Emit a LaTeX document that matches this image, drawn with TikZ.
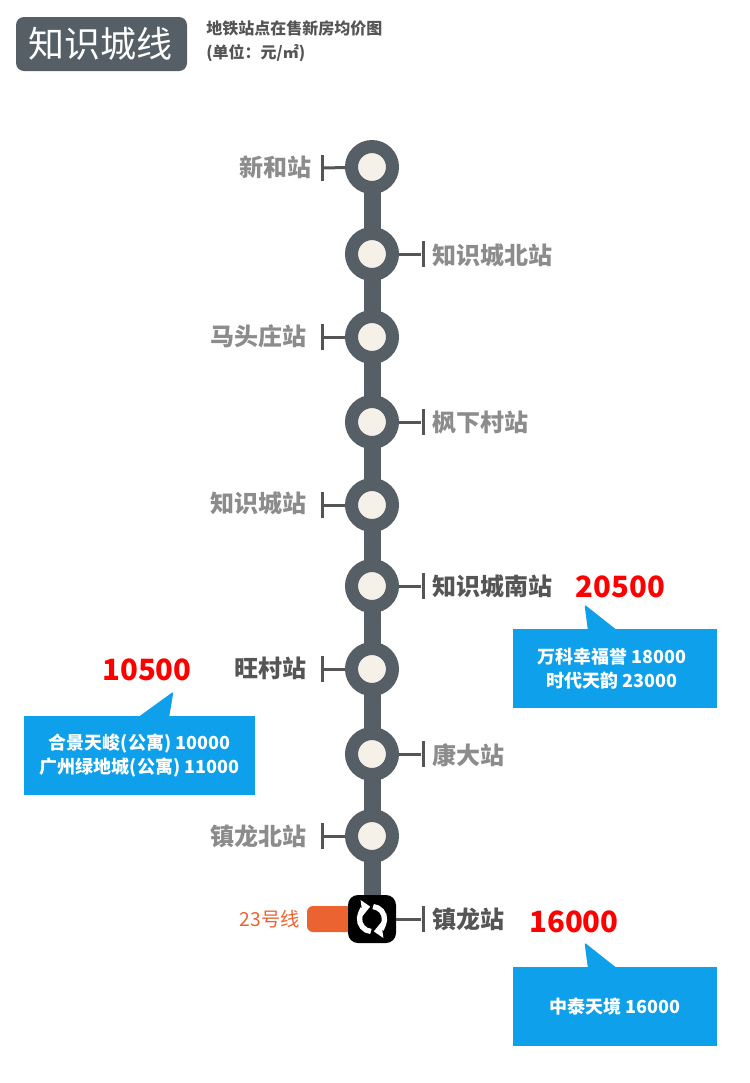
\documentclass[tikz,border=0pt]{standalone}
\usepackage{fontspec}
\usetikzlibrary{arrows.meta}
\setmainfont{Noto Sans CJK SC}
\definecolor{linegray}{HTML}{555F65}
\definecolor{stationcream}{HTML}{F5F0E8}
\definecolor{hookgray}{HTML}{555555}
\definecolor{mutedgray}{HTML}{8C8C8C}
\definecolor{calloutblue}{HTML}{0EA0EA}
\definecolor{lineorange}{HTML}{EC6332}
\tikzset{
  station/.style={shape=circle,draw=linegray,line width=9.75pt,fill=stationcream,minimum size=30.75pt,inner sep=0pt},
  hookbar/.style={shape=rectangle,fill=hookgray,minimum width=2.25pt,minimum height=19.5pt,inner sep=0pt},
  hookline/.style={draw=hookgray,line width=2.25pt},
  trunk/.style={draw=linegray,line width=12.75pt,shorten <=-3pt,shorten >=-3pt},
  namemuted/.style={text=mutedgray,font=\fontsize{18pt}{22pt}\selectfont\bfseries,inner sep=0pt},
  namedark/.style={text=hookgray,font=\fontsize{18pt}{22pt}\selectfont\bfseries,inner sep=0pt},
  pricetag/.style={text=red,font=\fontsize{22pt}{26pt}\selectfont\bfseries,inner sep=0pt},
  calloutbox/.style={shape=rectangle,fill=calloutblue,text=white,align=center,minimum width=153pt,minimum height=59.25pt,inner sep=0pt,font=\fontsize{13.5pt}{18pt}\selectfont\bfseries},
  calloutwide/.style={calloutbox,minimum width=173.25pt},
  calloutip/.style={fill=calloutblue,rounded corners=1.5pt},
  cyclearrow/.style={draw=white,line width=4pt,-{Triangle[width=11.5pt,length=6.5pt]}}
}
\begin{document}
\begin{tikzpicture}[x=0.75pt,y=-0.75pt]
\useasboundingbox (0,0) rectangle (750,1083);

% title
\node[shape=rectangle,fill=linegray,rounded corners=6pt,minimum width=128.25pt,minimum height=40.5pt,inner sep=0pt,text=white,font=\fontsize{27pt}{30pt}\selectfont] (title) at (101.5,44) {\kern-2pt 知识城线};
\node[anchor=north west,inner sep=0pt,align=left,text=hookgray,font=\fontsize{12pt}{18pt}\selectfont\bfseries] (subtitle) at (206,20) {地铁站点在售新房均价图\\(单位：元/㎡)};

% stations
\node[station] (xinhe) at (372,167) {};
\node[station] (zscbei) at (372,254) {};
\node[station] (matou) at (372,337) {};
\node[station] (fengxia) at (372,422) {};
\node[station] (zsc) at (372,505) {};
\node[station] (zscnan) at (372,586) {};
\node[station] (wangcun) at (372,669) {};
\node[station] (kangda) at (372,754) {};
\node[station] (zlbei) at (372,836) {};
\node[shape=rectangle,fill=lineorange,rounded corners=4.5pt,minimum width=39.75pt,minimum height=19.5pt,inner sep=0pt] (line23) at (333.5,919) {};
\node[shape=rectangle,fill=black,rounded corners=7.5pt,minimum size=36pt,inner sep=0pt] (zhenlong) at (372,919) {};

\path[trunk] (xinhe) edge (zscbei);
\path[trunk] (zscbei) edge (matou);
\path[trunk] (matou) edge (fengxia);
\path[trunk] (fengxia) edge (zsc);
\path[trunk] (zsc) edge (zscnan);
\path[trunk] (zscnan) edge (wangcun);
\path[trunk] (wangcun) edge (kangda);
\path[trunk] (kangda) edge (zlbei);
\path[trunk,shorten >=0pt] (zlbei) edge (zhenlong);

% interchange icon
\draw[cyclearrow] (zhenlong.center) ++(95:12.5) arc[start angle=95,end angle=262,radius=12.5];
\draw[cyclearrow] (zhenlong.center) ++(275:12.5) arc[start angle=275,end angle=442,radius=12.5];

% hooks
\node[hookbar] (hxinhe) at (322,168) {};
\node[hookbar] (hzscbei) at (423,254) {};
\node[hookbar] (hmatou) at (322,337) {};
\node[hookbar] (hfengxia) at (423,422) {};
\node[hookbar] (hzsc) at (322,505) {};
\node[hookbar] (hzscnan) at (423,586) {};
\node[hookbar] (hwangcun) at (322,669) {};
\node[hookbar] (hkangda) at (423,754) {};
\node[hookbar] (hzlbei) at (322,836) {};
\node[hookbar] (hzhenlong) at (423,919) {};

\path[hookline] (hxinhe) edge (xinhe);
\path[hookline] (hzscbei) edge (zscbei);
\path[hookline] (hmatou) edge (matou);
\path[hookline] (hfengxia) edge (fengxia);
\path[hookline] (hzsc) edge (zsc);
\path[hookline] (hzscnan) edge (zscnan);
\path[hookline] (hwangcun) edge (wangcun);
\path[hookline] (hkangda) edge (kangda);
\path[hookline] (hzlbei) edge (zlbei);
\path[hookline] (hzhenlong) edge (zhenlong);

% names
\node[namemuted,anchor=east] (nxinhe) at (312,167) {新和站};
\node[namemuted,anchor=west] (nzscbei) at (432,255) {知识城北站};
\node[namemuted,anchor=east] (nmatou) at (307,336) {马头庄站};
\node[namemuted,anchor=west] (nfengxia) at (432,423) {枫下村站};
\node[namemuted,anchor=east] (nzsc) at (307,503) {知识城站};
\node[namedark,anchor=west] (nzscnan) at (432,586) {知识城南站};
\node[namedark,anchor=east] (nwangcun) at (307,668) {旺村站};
\node[namemuted,anchor=west] (nkangda) at (432,755) {康大站};
\node[namemuted,anchor=east] (nzlbei) at (307,836) {镇龙北站};
\node[namedark,anchor=west] (nzhenlong) at (432,919) {镇龙站};
\node[text=lineorange,anchor=east,inner sep=0pt,font=\fontsize{14.5pt}{17pt}\selectfont] (n23) at (300,919) {23号线};

% prices
\node[pricetag] (p20500) at (620.5,587) {20500};
\node[pricetag] (p10500) at (147,670) {10500};
\node[pricetag] (p16000) at (574,922) {16000};

% callouts
\fill[calloutip] (588,631) -- (584.5,604.5) -- (618,631) -- cycle;
\node[calloutbox] (bwanke) at (615,668.5) {万科幸福誉 18000\kern4pt\\时代天韵 23000\kern4pt};
\fill[calloutip] (137,718) -- (173.5,691.5) -- (169,718) -- cycle;
\node[calloutwide] (bhejing) at (139.5,755.5) {合景天峻(公寓) 10000\\广州绿地城(公寓) 11000};
\fill[calloutip] (588,969) -- (584.5,942.5) -- (618,969) -- cycle;
\node[calloutbox] (bzhongtai) at (615,1006.5) {中泰天境 16000};
\end{tikzpicture}
\end{document}
